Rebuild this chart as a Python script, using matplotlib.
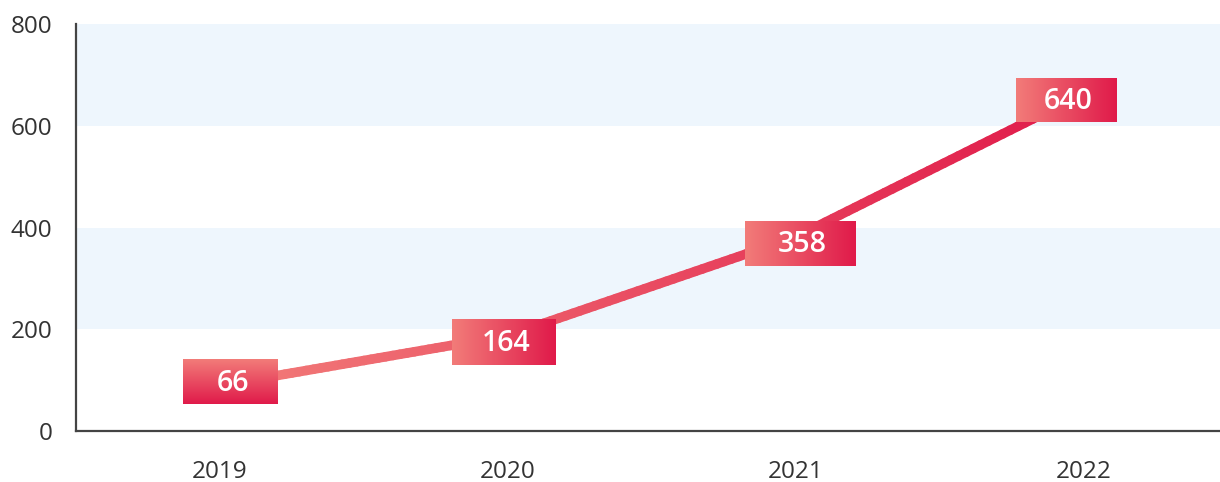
import numpy as np
import matplotlib
matplotlib.use("Agg")
import matplotlib.pyplot as plt
from matplotlib.collections import LineCollection
from matplotlib.colors import LinearSegmentedColormap

years = ["2019", "2020", "2021", "2022"]
values = [66, 164, 358, 640]
yticks = [0, 200, 400, 600, 800]
bands = [(200, 400), (600, 800)]

# label box geometry (pixels relative to the data point; image coords, y down)
box_dx = [(-37, 58), (-56, 48), (-51, 60), (-68, 33)]
box_dy = [(-38, 7), (-28.5, 17.5), (-28, 17), (-27, 17)]
box_vertical = [True, False, False, False]
line_lift = 12  # px

W, H = 1220, 482
plt.rcParams['font.family'] = ['Open Sans', 'DejaVu Sans']
fig = plt.figure(figsize=(W / 100, H / 100), dpi=100)
ax = fig.add_axes([76 / W, 1 - 431 / H, (1228 - 76) / W, (431 - 24) / H])
x = np.arange(len(years))
ax.set_xlim(-0.5, len(years) - 0.5)
ax.set_ylim(0, 800)
for lo, hi in bands:
    ax.axhspan(lo, hi, color="#EEF6FD", lw=0, zorder=0)
ax.set_yticks(yticks)
ax.set_yticklabels([str(t) for t in yticks])
ax.set_xticks(x)
ax.set_xticklabels(years)
ax.tick_params(axis="y", length=0, pad=17, labelsize=17.5, labelcolor="#333333")
ax.tick_params(axis="x", length=0, pad=21, labelsize=17.5, labelcolor="#333333")
for s in ["top", "right"]:
    ax.spines[s].set_visible(False)
for s in ["left", "bottom"]:
    ax.spines[s].set_color("#444444")
    ax.spines[s].set_linewidth(1.6)
ax.plot(x, values, alpha=0)  # keep data on the axes

cmap = LinearSegmentedColormap.from_list("g", ["#F27C79", "#E01A4A"])

# overlay in figure pixels
ov = fig.add_axes([0, 0, 1, 1], zorder=5)
ov.set_xlim(0, W)
ov.set_ylim(H, 0)
ov.axis("off")

disp = ax.transData.transform(np.column_stack([x, values]))
px = disp[:, 0]
py = H - disp[:, 1]

# gradient line
xs, ys = [], []
for i in range(len(px) - 1):
    t = np.linspace(0, 1, 40, endpoint=(i == len(px) - 2))
    xs.extend(px[i] + (px[i + 1] - px[i]) * t)
    ys.extend(py[i] + (py[i + 1] - py[i]) * t)
xs = np.array(xs)
ys = np.array(ys) - line_lift
pts = np.column_stack([xs, ys]).reshape(-1, 1, 2)
segs = np.concatenate([pts[:-1], pts[1:]], axis=1)
lc = LineCollection(segs, cmap=cmap, linewidths=6.9, capstyle="round", joinstyle="round")
lc.set_array((xs[:-1] - xs.min()) / (xs.max() - xs.min()))
lc.set_clim(0, 1)
ov.add_collection(lc)

grad_h = np.linspace(0, 1, 256).reshape(1, -1)
grad_v = np.linspace(0, 1, 256).reshape(-1, 1)
for i, v in enumerate(values):
    l, r = px[i] + box_dx[i][0], px[i] + box_dx[i][1]
    t, b = py[i] + box_dy[i][0], py[i] + box_dy[i][1]
    g = grad_v if box_vertical[i] else grad_h
    ov.imshow(g, cmap=cmap, extent=(l, r, b, t), aspect="auto", zorder=6,
              interpolation="bilinear")
    ov.text((l + r) / 2 + 2, (t + b) / 2 + 1.5, str(v), color="white",
            fontsize=20.5, fontweight="semibold", ha="center", va="center", zorder=7)
ov.set_xlim(0, W)
ov.set_ylim(H, 0)

fig.savefig("out.png", dpi=100)
